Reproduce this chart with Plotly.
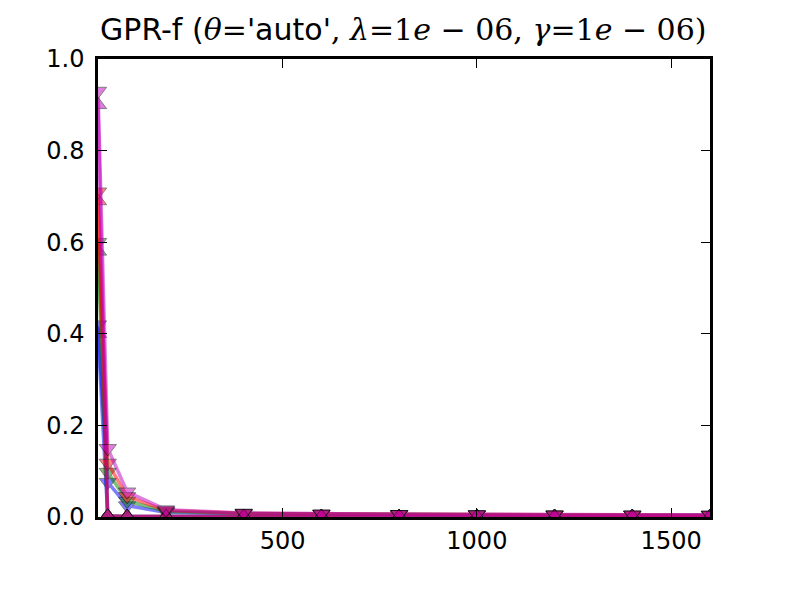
import plotly.graph_objects as go

# training set sizes
n_train = [25, 50, 100, 200, 400, 600, 800, 1000, 1200, 1400, 1600]

# error curves, 'v' markers (one per colour)
err_v = {
    'b': [0.42, 0.076, 0.025, 0.010, 0.007, 0.006, 0.005, 0.005, 0.004, 0.004, 0.004],
    'g': [0.60, 0.098, 0.035, 0.012, 0.008, 0.006, 0.006, 0.005, 0.005, 0.004, 0.004],
    'r': [0.71, 0.118, 0.045, 0.014, 0.008, 0.007, 0.006, 0.005, 0.005, 0.005, 0.004],
    'm': [0.93, 0.150, 0.055, 0.016, 0.009, 0.007, 0.006, 0.006, 0.005, 0.005, 0.005],
}
# error curves, '^' markers
err_up = {
    'b': [0.40, 0.002, 0.001, 0.001, 0.001, 0.001, 0.001, 0.001, 0.001, 0.001, 0.001],
    'g': [0.58, 0.002, 0.001, 0.001, 0.001, 0.001, 0.001, 0.001, 0.001, 0.001, 0.001],
    'r': [0.69, 0.002, 0.001, 0.001, 0.001, 0.001, 0.001, 0.001, 0.001, 0.001, 0.001],
    'm': [0.90, 0.002, 0.001, 0.001, 0.001, 0.001, 0.001, 0.001, 0.001, 0.001, 0.001],
}

colors = {'b': '#0000ff', 'g': '#008000', 'r': '#ff0000', 'm': '#bf00bf'}

fig = go.Figure()

for c in ['b', 'g', 'r', 'm']:
    fig.add_trace(go.Scatter(x=n_train, y=err_up[c], mode='lines+markers',
                             line=dict(color=colors[c], width=3.5),
                             marker=dict(symbol='triangle-up', size=15, color=colors[c],
                                         line=dict(color='black', width=1)),
                             opacity=0.5, showlegend=False))
    fig.add_trace(go.Scatter(x=n_train, y=err_v[c], mode='lines+markers',
                             line=dict(color=colors[c], width=3.5),
                             marker=dict(symbol='triangle-down', size=15, color=colors[c],
                                         line=dict(color='black', width=1)),
                             opacity=0.5, showlegend=False))

math = "font-family:'DejaVu Serif'"
title = ("GPR-f (<span style=\"%s\"><i>θ</i>=</span>'auto'<span style=\"%s\">, <i>λ</i>=1<i>e</i> − 06, "
         "<i>γ</i>=1<i>e</i> − 06)</span>" % (math, math))

axis_style = dict(showline=True, linecolor='black', linewidth=2.5, mirror='ticks',
                  ticks='inside', ticklen=9, tickwidth=1, tickcolor='black',
                  showgrid=False, zeroline=False,
                  tickfont=dict(family='DejaVu Sans', size=24, color='black'))

fig.update_layout(
    width=789, height=592,
    margin=dict(l=90, r=87, t=51, b=83),
    paper_bgcolor='white', plot_bgcolor='white',
    title=dict(text=title, x=0.501, xanchor='center', y=0.9645, yanchor='middle',
               font=dict(family='DejaVu Sans', size=30, color='black')),
    xaxis=dict(range=[25, 1600], tickvals=[500, 1000, 1500], **axis_style),
    yaxis=dict(range=[0, 1], tickvals=[0, 0.2, 0.4, 0.6, 0.8, 1.0], tickformat='.1f',
               ticklabelstandoff=6, **axis_style),
)

fig.write_html("out.html")
